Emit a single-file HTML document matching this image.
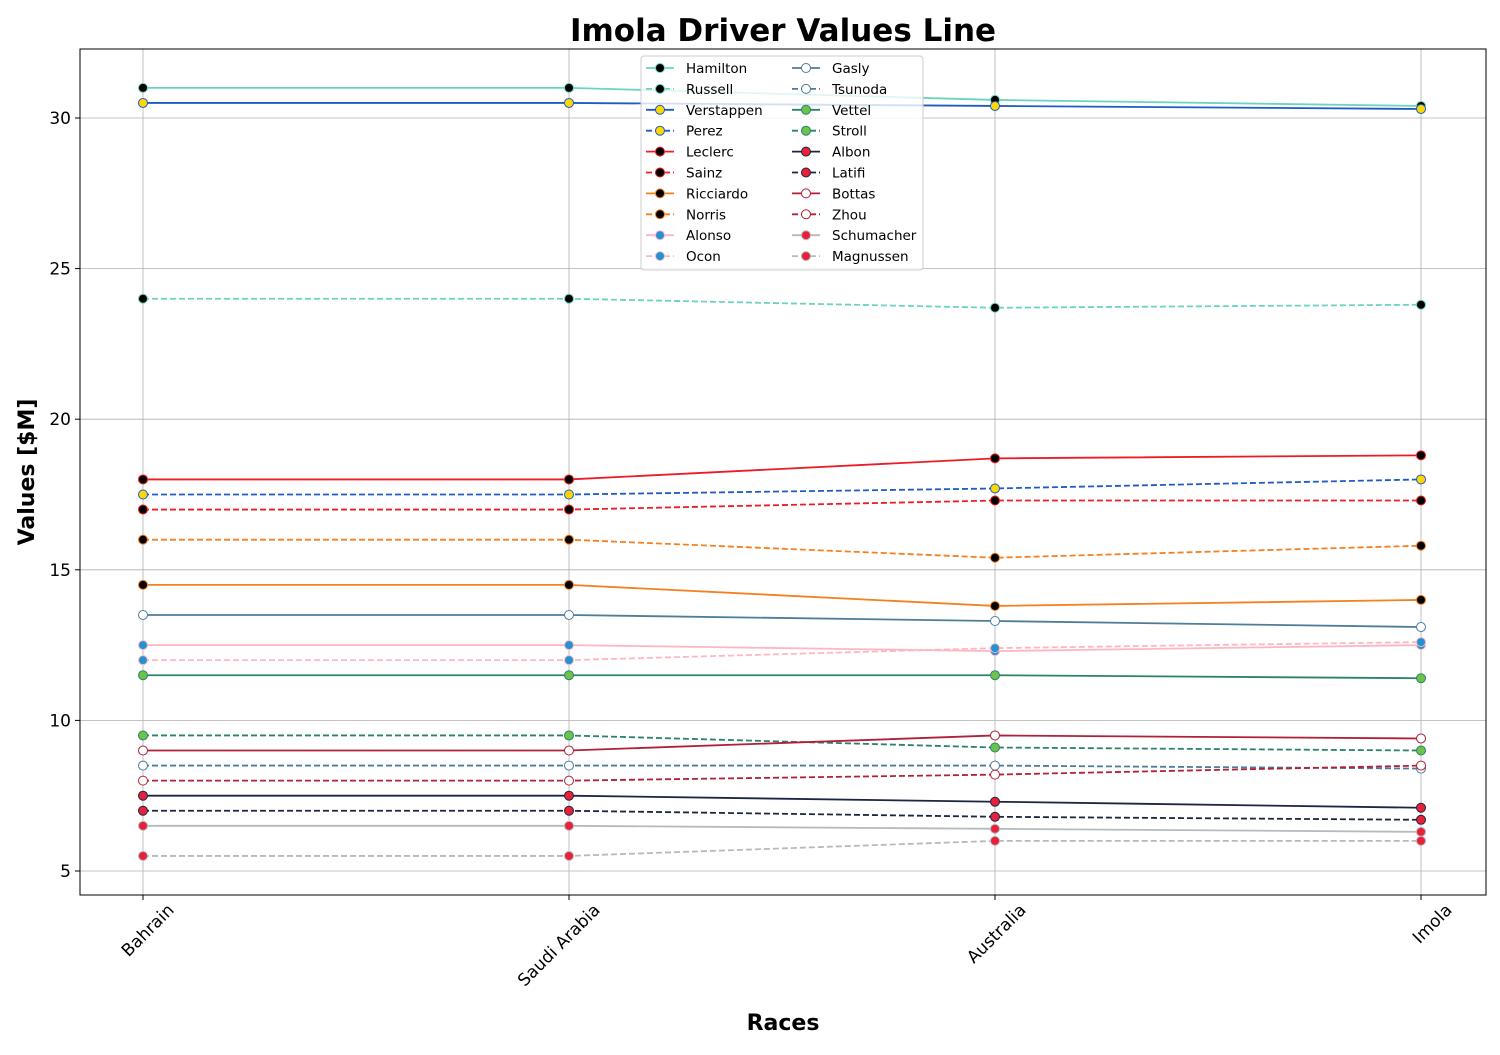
<!DOCTYPE html>
<html><head><meta charset="utf-8"><style>body{margin:0;background:#fff}svg{font-family:"DejaVu Sans","Liberation Sans",sans-serif}</style></head>
<body>
<svg id="chart" width="1500" height="1050" xmlns="http://www.w3.org/2000/svg"></svg>
<script>
const races = ["Bahrain","Saudi Arabia","Australia","Imola"];
const drivers = ["Hamilton","Russell","Verstappen","Perez","Leclerc","Sainz","Ricciardo","Norris","Alonso","Ocon","Gasly","Tsunoda","Vettel","Stroll","Albon","Latifi","Bottas","Zhou","Schumacher","Magnussen"];
const hamilton=[31,31,30.6,30.4];
const russell=[24,24,23.7,23.8];
const verstappen=[30.5,30.5,30.4,30.3];
const perez=[17.5,17.5,17.7,18];
const leclerc=[18,18,18.7,18.8];
const sainz=[17,17,17.3,17.3];
const ricciardo=[14.5,14.5,13.8,14];
const norris=[16,16,15.4,15.8];
const alonso=[12.5,12.5,12.3,12.5];
const ocon=[12,12,12.4,12.6];
const gasly=[13.5,13.5,13.3,13.1];
const tsunoda=[8.5,8.5,8.5,8.4];
const vettel=[11.5,11.5,11.5,11.4];
const stroll=[9.5,9.5,9.1,9.0];
const albon=[7.5,7.5,7.3,7.1];
const latifi=[7,7,6.8,6.7];
const bottas=[9,9,9.5,9.4];
const zhou=[8,8,8.2,8.5];
const schumacher=[6.5,6.5,6.4,6.3];
const magnussen=[5.5,5.5,6,6];
const yTicks=[5,10,15,20,25,30];
const series=[hamilton,russell,verstappen,perez,leclerc,sainz,ricciardo,norris,alonso,ocon,gasly,tsunoda,vettel,stroll,albon,latifi,bottas,zhou,schumacher,magnussen];
const lineCols=["#6CD3BF","#1E5BC6","#ED1C24","#F58020","#FFB6C1","#4E7C9B","#2D826D","#1C2541","#B12039","#B6BABD"];
const faceCols=["#000","#FFD700","#000","#000","#2293D1","#fff","#6CC24A","#E8213A","#fff","#E8213A"];
const svg=document.getElementById('chart');
const NS="http://www.w3.org/2000/svg";
function mk(t,a,p){const e=document.createElementNS(NS,t);for(const k in a)e.setAttribute(k,a[k]);(p||svg).appendChild(e);return e;}
const L=80,R=1486,T=49,B=895;
function xs(i){return 143+i*426;}
function ys(v){return 871-(v-5)*30.12;}
races.forEach((r,i)=>{const g=mk('line',{x1:xs(i),x2:xs(i),y1:T,y2:B,stroke:'#b0b0b0','stroke-width':0.8});});
yTicks.forEach(v=>{const g=mk('line',{x1:L,x2:R,y1:ys(v),y2:ys(v),stroke:'#b0b0b0','stroke-width':0.8});
const tk=mk('line',{x1:L-5,x2:L,y1:ys(v),y2:ys(v),stroke:'#000'});
const t=mk('text',{x:L-9,y:ys(v)+6,'text-anchor':'end','font-size':17});t.textContent=v;});
races.forEach((r,i)=>{const tk=mk('line',{x1:xs(i),x2:xs(i),y1:B,y2:B+5,stroke:'#000'});
const ax=xs(i)+32,ay=B+16;
const t=mk('text',{x:ax,y:ay,'text-anchor':'end','font-size':17,transform:`rotate(-45 ${ax} ${ay})`});t.textContent=r;});
series.forEach((d,si)=>{const c=lineCols[si>>1],f=faceCols[si>>1],dash=si%2?'6,3':'';
const g=mk('g',{});
mk('polyline',{points:d.map((v,i)=>xs(i)+','+ys(v)).join(' '),fill:'none',stroke:c,'stroke-width':1.8,'stroke-dasharray':dash},g);
d.forEach((v,i)=>{const m=mk('circle',{cx:xs(i),cy:ys(v),r:4.5,fill:f,stroke:c,'stroke-width':1},g);});});
const fr=mk('rect',{x:L,y:T,width:R-L,height:B-T,fill:'none',stroke:'#000','stroke-width':1});
const lg=mk('g',{});
mk('rect',{x:641,y:56,width:282,height:214,fill:'#fff','fill-opacity':0.8,stroke:'#ccc',rx:3},lg);
drivers.forEach((n,si)=>{const col=si<10?0:1,row=si%10;const x0=646+col*146,y=68+row*20.9;const c=lineCols[si>>1],f=faceCols[si>>1];
const e=mk('g',{},lg);
mk('line',{x1:x0,x2:x0+28,y1:y,y2:y,stroke:c,'stroke-width':1.8,'stroke-dasharray':si%2?'6,3':''},e);
mk('circle',{cx:x0+14,cy:y,r:4.5,fill:f,stroke:c},e);
const t=mk('text',{x:x0+40,y:y+5,'font-size':13.5},e);t.textContent=n;});
const ti=mk('text',{x:783,y:41,'text-anchor':'middle','font-size':31,'font-weight':'bold'});ti.textContent='Imola Driver Values Line';
const xt=mk('text',{x:783,y:1030,'text-anchor':'middle','font-size':22,'font-weight':'bold'});xt.textContent='Races';
const yt=mk('text',{x:34,y:472,'text-anchor':'middle','font-size':22,'font-weight':'bold',transform:'rotate(-90 34 472)'});yt.textContent='Values [$M]';
</script>
</body></html>
